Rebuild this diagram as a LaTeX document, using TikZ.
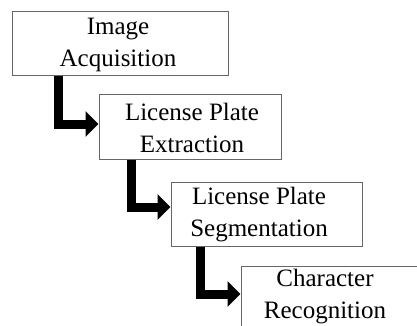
\documentclass[tikz,border=0pt]{standalone}
\usepackage{fontspec}
\setmainfont{Liberation Serif}
\usetikzlibrary{arrows.meta}
\tikzset{
  box/.style={draw=black!60, line width=1pt, rectangle, inner sep=0pt, minimum height=64pt},
  label/.style={align=center, inner sep=0pt, anchor=north, font=\fontsize{25}{32}\selectfont},
  flow/.style={line width=9pt, line join=miter, -{Triangle[length=13pt,width=25pt]}}
}
\begin{document}
\begin{tikzpicture}[x=1pt,y=-1pt]
\useasboundingbox (0,0) rectangle (417,326);
\clip (0,0) rectangle (417,326);
\fill[white] (0,0) rectangle (417,326);
\node[box, minimum width=216pt] (b1) at (120,44) {};
\node[box, minimum width=182pt] (b2) at (190,127) {};
\node[box, minimum width=191pt] (b3) at (266.5,214) {};
\node[box, minimum width=185pt] (b4) at (333.5,298) {};
\node[label] (t1) at (118,34.5-22.4) {\strut Image\\Acquisition};
\node[label] (t2) at (192,120.5-22.4) {\strut License Plate\\Extraction};
\node[label] (t3) at (259,204-22.4) {\strut License Plate\\Segmentation};
\node[label] (t4) at (325,286.5-22.4) {\strut Character\\Recognition};
\draw[flow] ([xshift=47pt]b1.south west) |- ([yshift=3pt]b2.west);
\draw[flow] ([xshift=33pt]b2.south west) |- ([yshift=7pt]b3.west);
\draw[flow] ([xshift=30pt]b3.south west) |- ([yshift=4pt]b4.west);
\end{tikzpicture}
\end{document}
